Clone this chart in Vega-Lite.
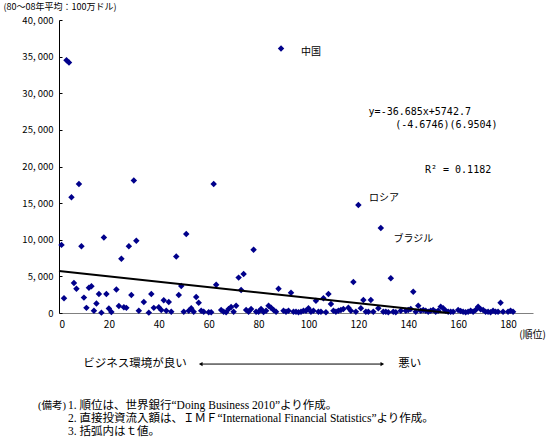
{
  "$schema": "https://vega.github.io/schema/vega-lite/v6.json",
  "autosize": "none",
  "width": 474,
  "height": 293,
  "padding": {"left": 59, "top": 20, "right": 27, "bottom": 130},
  "background": "white",
  "config": {
    "view": {"stroke": null},
    "font": "Noto Sans CJK JP",
    "axis": {"grid": false, "domainColor": "#000000", "tickColor": "#000000", "labelColor": "#000000", "titleColor": "#000000", "labelFont": "Noto Sans CJK JP", "titleFont": "Noto Sans CJK JP", "labelFontSize": 10, "titleFontSize": 10, "titleFontWeight": "normal"},
    "axisY": {"labelOverlap": false}
  },
  "datasets": {
    "points": [
      {"rank": 1, "fdi": 9300}, {"rank": 2, "fdi": 2000}, {"rank": 3, "fdi": 34500}, {"rank": 4, "fdi": 34200},
      {"rank": 5, "fdi": 15800}, {"rank": 6, "fdi": 4100}, {"rank": 7, "fdi": 3300}, {"rank": 8, "fdi": 17600},
      {"rank": 9, "fdi": 9100}, {"rank": 10, "fdi": 2100}, {"rank": 11, "fdi": 700}, {"rank": 12, "fdi": 3450},
      {"rank": 13, "fdi": 3650}, {"rank": 14, "fdi": 300}, {"rank": 15, "fdi": 1300}, {"rank": 16, "fdi": 2600},
      {"rank": 17, "fdi": 50}, {"rank": 18, "fdi": 10300}, {"rank": 19, "fdi": 2600}, {"rank": 20, "fdi": 600},
      {"rank": 21, "fdi": 150}, {"rank": 23, "fdi": 3200}, {"rank": 24, "fdi": 950}, {"rank": 25, "fdi": 7400},
      {"rank": 26, "fdi": 800}, {"rank": 27, "fdi": 700}, {"rank": 28, "fdi": 9100}, {"rank": 29, "fdi": 2450},
      {"rank": 30, "fdi": 18100}, {"rank": 31, "fdi": 9850}, {"rank": 32, "fdi": 300}, {"rank": 34, "fdi": 1500},
      {"rank": 36, "fdi": 50}, {"rank": 37, "fdi": 2600}, {"rank": 38, "fdi": 700}, {"rank": 40, "fdi": 800},
      {"rank": 41, "fdi": 400}, {"rank": 42, "fdi": 1730}, {"rank": 43, "fdi": 300}, {"rank": 44, "fdi": 1500},
      {"rank": 45, "fdi": 180}, {"rank": 47, "fdi": 7700}, {"rank": 48, "fdi": 2450}, {"rank": 49, "fdi": 3700},
      {"rank": 50, "fdi": 180}, {"rank": 51, "fdi": 10800}, {"rank": 52, "fdi": 300}, {"rank": 53, "fdi": 640},
      {"rank": 54, "fdi": 180}, {"rank": 55, "fdi": 2200}, {"rank": 56, "fdi": 1400}, {"rank": 57, "fdi": 300},
      {"rank": 58, "fdi": 180}, {"rank": 60, "fdi": 100}, {"rank": 61, "fdi": 100}, {"rank": 62, "fdi": 17600},
      {"rank": 63, "fdi": 3870}, {"rank": 65, "fdi": 400}, {"rank": 66, "fdi": 180}, {"rank": 67, "fdi": 100},
      {"rank": 68, "fdi": 550}, {"rank": 69, "fdi": 820}, {"rank": 70, "fdi": 180}, {"rank": 71, "fdi": 1000},
      {"rank": 72, "fdi": 4830}, {"rank": 73, "fdi": 3140}, {"rank": 74, "fdi": 5330}, {"rank": 75, "fdi": 400},
      {"rank": 76, "fdi": 180}, {"rank": 77, "fdi": 550}, {"rank": 78, "fdi": 8650}, {"rank": 79, "fdi": 180},
      {"rank": 80, "fdi": 180}, {"rank": 81, "fdi": 550}, {"rank": 82, "fdi": 150}, {"rank": 83, "fdi": 300},
      {"rank": 84, "fdi": 1000}, {"rank": 85, "fdi": 720}, {"rank": 86, "fdi": 400}, {"rank": 87, "fdi": 180},
      {"rank": 88, "fdi": 3300}, {"rank": 89, "fdi": 36100}, {"rank": 90, "fdi": 300}, {"rank": 91, "fdi": 180},
      {"rank": 92, "fdi": 300}, {"rank": 93, "fdi": 2770}, {"rank": 94, "fdi": 180}, {"rank": 95, "fdi": 180},
      {"rank": 96, "fdi": 100}, {"rank": 97, "fdi": 180}, {"rank": 98, "fdi": 300}, {"rank": 99, "fdi": 300},
      {"rank": 100, "fdi": 640}, {"rank": 101, "fdi": 180}, {"rank": 102, "fdi": 300}, {"rank": 103, "fdi": 1680},
      {"rank": 104, "fdi": 180}, {"rank": 105, "fdi": 180}, {"rank": 106, "fdi": 2000}, {"rank": 107, "fdi": 100},
      {"rank": 108, "fdi": 2600}, {"rank": 109, "fdi": 1230}, {"rank": 110, "fdi": 300}, {"rank": 111, "fdi": 180},
      {"rank": 112, "fdi": 300}, {"rank": 113, "fdi": 400}, {"rank": 114, "fdi": 550}, {"rank": 116, "fdi": 720},
      {"rank": 117, "fdi": 300}, {"rank": 118, "fdi": 4230}, {"rank": 119, "fdi": 180}, {"rank": 120, "fdi": 14750},
      {"rank": 121, "fdi": 640}, {"rank": 122, "fdi": 1780}, {"rank": 123, "fdi": 180}, {"rank": 124, "fdi": 180},
      {"rank": 125, "fdi": 1780}, {"rank": 126, "fdi": 180}, {"rank": 128, "fdi": 640}, {"rank": 129, "fdi": 11600},
      {"rank": 130, "fdi": 180}, {"rank": 131, "fdi": 180}, {"rank": 132, "fdi": 100}, {"rank": 133, "fdi": 4740},
      {"rank": 134, "fdi": 180}, {"rank": 135, "fdi": 100}, {"rank": 137, "fdi": 300}, {"rank": 139, "fdi": 300},
      {"rank": 140, "fdi": 400}, {"rank": 141, "fdi": 550}, {"rank": 142, "fdi": 2900}, {"rank": 143, "fdi": 180},
      {"rank": 144, "fdi": 1000}, {"rank": 145, "fdi": 300}, {"rank": 146, "fdi": 400}, {"rank": 147, "fdi": 300},
      {"rank": 148, "fdi": 180}, {"rank": 149, "fdi": 300}, {"rank": 150, "fdi": 400}, {"rank": 151, "fdi": 180},
      {"rank": 152, "fdi": 300}, {"rank": 153, "fdi": 870}, {"rank": 154, "fdi": 640}, {"rank": 155, "fdi": 300},
      {"rank": 156, "fdi": 180}, {"rank": 157, "fdi": 180}, {"rank": 158, "fdi": 180}, {"rank": 160, "fdi": 400},
      {"rank": 161, "fdi": 270}, {"rank": 162, "fdi": 180}, {"rank": 163, "fdi": 100}, {"rank": 164, "fdi": 180},
      {"rank": 165, "fdi": 300}, {"rank": 166, "fdi": 180}, {"rank": 167, "fdi": 400}, {"rank": 168, "fdi": 870},
      {"rank": 169, "fdi": 500}, {"rank": 170, "fdi": 400}, {"rank": 171, "fdi": 180}, {"rank": 172, "fdi": 180},
      {"rank": 173, "fdi": 100}, {"rank": 174, "fdi": 300}, {"rank": 175, "fdi": 180}, {"rank": 176, "fdi": 180},
      {"rank": 177, "fdi": 1400}, {"rank": 178, "fdi": 180}, {"rank": 180, "fdi": 180}, {"rank": 181, "fdi": 300},
      {"rank": 182, "fdi": 180}
    ],
    "trend": [
      {"rank": 0, "fdi": 5742.7},
      {"rank": 156.5, "fdi": 0}
    ],
    "labels": [
      {"rank": 97, "fdi": 35650, "label": "中国"},
      {"rank": 124.3, "fdi": 15670, "label": "ロシア"},
      {"rank": 134.1, "fdi": 10070, "label": "ブラジル"}
    ],
    "equation": [
      {"rank": 124.1, "fdi": 27500, "label": "y=-36.685x+5742.7"},
      {"rank": 134.8, "fdi": 25640, "label": "(-4.6746)(6.9504)"},
      {"rank": 146.7, "fdi": 19540, "label": "R² = 0.1182"}
    ],
    "arrow": [
      {"rank": 56.8, "rank2": 129.6, "fdi": -6970}
    ],
    "arrowheads": [
      {"rank": 56.8, "fdi": -6970, "dir": "left"},
      {"rank": 129.6, "fdi": -6970, "dir": "right"}
    ],
    "endLeft": [
      {"rank": 51.2, "fdi": -6970, "label": "ビジネス環境が良い"}
    ],
    "endRight": [
      {"rank": 136, "fdi": -6970, "label": "悪い"}
    ],
    "notesHead": [
      {"rank": -8.4, "fdi": -12700, "label": "(備考)"}
    ],
    "notes": [
      {"rank": 3.6, "fdi": -12700, "label": "1. 順位は、世界銀行“Doing Business 2010”より作成。"},
      {"rank": 3.6, "fdi": -14470, "label": "2. 直接投資流入額は、ＩＭＦ“International Financial Statistics”より作成。"},
      {"rank": 3.6, "fdi": -16250, "label": "3. 括弧内はｔ値。"}
    ]
  },
  "encoding": {
    "x": {"field": "rank", "type": "quantitative",
          "scale": {"domain": [0, 190], "nice": false, "zero": false},
          "axis": {"values": [0, 20, 40, 60, 80, 100, 120, 140, 160, 180], "ticks": false, "labelPadding": 6,
                   "domainColor": "#808080", "title": "(順位)", "titleX": 473, "titleY": 21, "titleAlign": "center", "titleBaseline": "middle"}},
    "y": {"field": "fdi", "type": "quantitative",
          "scale": {"domain": [0, 40000], "nice": false, "zero": true},
          "axis": {"values": [0, 5000, 10000, 15000, 20000, 25000, 30000, 35000, 40000], "tickSize": -3, "labelPadding": 9,
                   "labelOverlap": false, "labelFlush": false, "labelFontSize": 9.5,
                   "labelExpr": "replace(format(datum.value, ','), ',', ', ')",
                   "title": "(80～08年平均：100万ドル)", "titleFontSize": 9, "titleAngle": 0, "titleX": -56, "titleY": -13.5, "titleAlign": "left", "titleBaseline": "middle"}}
  },
  "layer": [
    {
      "data": {"name": "points"},
      "mark": {"type": "point", "shape": "diamond", "filled": true, "color": "#00008B", "size": 42, "opacity": 1}
    },
    {
      "data": {"name": "trend"},
      "mark": {"type": "line", "color": "#000000", "strokeWidth": 2}
    },
    {
      "data": {"name": "labels"},
      "mark": {"type": "text", "align": "left", "baseline": "middle", "fontSize": 10, "color": "#000000"},
      "encoding": {"text": {"field": "label"}}
    },
    {
      "data": {"name": "equation"},
      "mark": {"type": "text", "align": "left", "baseline": "middle", "fontSize": 10, "font": "DejaVu Sans Mono", "color": "#000000"},
      "encoding": {"text": {"field": "label"}}
    },
    {
      "data": {"name": "arrow"},
      "mark": {"type": "rule", "color": "#000000", "strokeWidth": 1},
      "encoding": {"x2": {"field": "rank2"}}
    },
    {
      "data": {"name": "arrowheads"},
      "mark": {"type": "point", "filled": true, "color": "#000000", "size": 18, "opacity": 1},
      "encoding": {
        "shape": {"field": "dir", "type": "nominal", "scale": {"domain": ["left", "right"], "range": ["triangle-left", "triangle-right"]}, "legend": null}
      }
    },
    {
      "data": {"name": "endLeft"},
      "mark": {"type": "text", "align": "right", "baseline": "middle", "fontSize": 11.5, "color": "#000000"},
      "encoding": {"text": {"field": "label"}}
    },
    {
      "data": {"name": "endRight"},
      "mark": {"type": "text", "align": "left", "baseline": "middle", "fontSize": 11.5, "color": "#000000"},
      "encoding": {"text": {"field": "label"}}
    },
    {
      "data": {"name": "notesHead"},
      "mark": {"type": "text", "align": "left", "baseline": "middle", "fontSize": 10.5, "font": "Liberation Serif, Noto Sans CJK JP", "color": "#000000"},
      "encoding": {"text": {"field": "label"}}
    },
    {
      "data": {"name": "notes"},
      "mark": {"type": "text", "align": "left", "baseline": "middle", "fontSize": 11.5, "font": "Liberation Serif, Noto Sans CJK JP", "color": "#000000"},
      "encoding": {"text": {"field": "label"}}
    }
  ]
}
